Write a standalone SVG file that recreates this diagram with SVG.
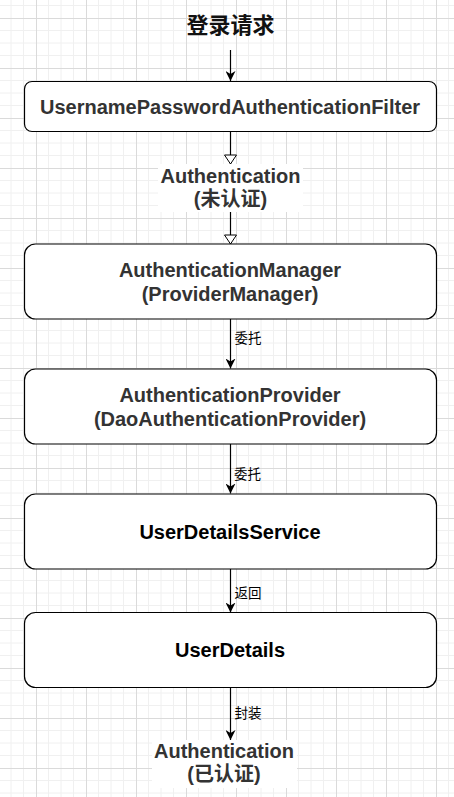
<svg xmlns="http://www.w3.org/2000/svg" width="454" height="797" viewBox="0 0 454 797">
<defs>
<pattern id="grid" width="50" height="50" patternUnits="userSpaceOnUse" x="36" y="18">
<path d="M12.5 0V50M25 0V50M37.5 0V50M0 12.5H50M0 25H50M0 37.5H50" stroke="#f0f0f0" stroke-width="1" fill="none"/>
<path d="M0.5 0V50M0 0.5H50" stroke="#dadada" stroke-width="1" fill="none"/>
</pattern>
<marker id="arrow" viewBox="0 0 10 10" refX="10" refY="5" markerWidth="10" markerHeight="10" markerUnits="userSpaceOnUse" orient="auto">
<path d="M0,0 L10,5 L0,10 L3,5 Z" fill="#000"/>
</marker>
<marker id="open" viewBox="-1 -1 11 14" refX="9" refY="6" markerWidth="11" markerHeight="14" markerUnits="userSpaceOnUse" orient="auto">
<path d="M0,0 L9,6 L0,12 Z" fill="#fff" stroke="#000" stroke-width="1"/>
</marker>
</defs>
<style>
.box{fill:#fff;stroke:#000;stroke-width:1.2}
.t{font-family:"Liberation Sans","Noto Sans CJK SC",sans-serif;font-weight:bold;font-size:20px;fill:#333;text-anchor:middle}
.lbl{font-family:"Noto Sans CJK SC",sans-serif;font-size:13.5px;fill:#000}
.edge{stroke:#000;stroke-width:1.2;fill:none}
</style>
<rect width="454" height="797" fill="#fff"/>
<rect width="454" height="797" fill="url(#grid)"/>

<g id="title">
<text x="230.5" y="33" font-family="'Noto Sans CJK SC',sans-serif" font-weight="bold" font-size="22" fill="#111" text-anchor="middle">登录请求</text>
</g>

<g id="connectors">
<line class="edge" x1="230.5" y1="50" x2="230.5" y2="81" marker-end="url(#arrow)"/>
<line class="edge" x1="230.5" y1="131.5" x2="230.5" y2="164" marker-end="url(#open)"/>
<line class="edge" x1="230.5" y1="212" x2="230.5" y2="244" marker-end="url(#open)"/>
<line class="edge" x1="230.5" y1="319" x2="230.5" y2="368.5" marker-end="url(#arrow)"/>
<line class="edge" x1="230.5" y1="444" x2="230.5" y2="493.5" marker-end="url(#arrow)"/>
<line class="edge" x1="230.5" y1="569" x2="230.5" y2="612.5" marker-end="url(#arrow)"/>
<line class="edge" x1="230.5" y1="687.5" x2="230.5" y2="740" marker-end="url(#arrow)"/>
<text class="lbl" x="234.5" y="343">委托</text>
<text class="lbl" x="234" y="479">委托</text>
<text class="lbl" x="234.5" y="598">返回</text>
<text class="lbl" x="234.5" y="718">封装</text>
</g>

<g id="filter">
<rect class="box" x="24.5" y="81.5" width="412" height="50" rx="7.5"/>
<text class="t" x="230" y="114">UsernamePasswordAuthenticationFilter</text>
</g>

<g id="auth-unauth">
<rect x="158" y="164" width="145" height="48" fill="#fff"/>
<text class="t" x="230.5" y="182.5">Authentication</text>
<text class="t" x="230.5" y="206">(未认证)</text>
</g>

<g id="manager">
<rect class="box" x="24.5" y="244" width="412" height="75" rx="11"/>
<text class="t" x="230" y="277">AuthenticationManager</text>
<text class="t" x="230" y="301">(ProviderManager)</text>
</g>

<g id="provider">
<rect class="box" x="24.5" y="369" width="412" height="75" rx="11"/>
<text class="t" x="230" y="402">AuthenticationProvider</text>
<text class="t" x="230" y="426">(DaoAuthenticationProvider)</text>
</g>

<g id="uds">
<rect class="box" x="24.5" y="494" width="412" height="75" rx="11"/>
<text class="t" x="230" y="539" fill="#000" style="fill:#000">UserDetailsService</text>
</g>

<g id="userdetails">
<rect class="box" x="24.5" y="612.5" width="412" height="75" rx="11"/>
<text class="t" x="230" y="657" style="fill:#000">UserDetails</text>
</g>

<g id="auth-auth">
<rect x="152" y="740" width="145" height="48" fill="#fff"/>
<text class="t" x="224" y="757.5">Authentication</text>
<text class="t" x="224" y="781">(已认证)</text>
</g>
</svg>
